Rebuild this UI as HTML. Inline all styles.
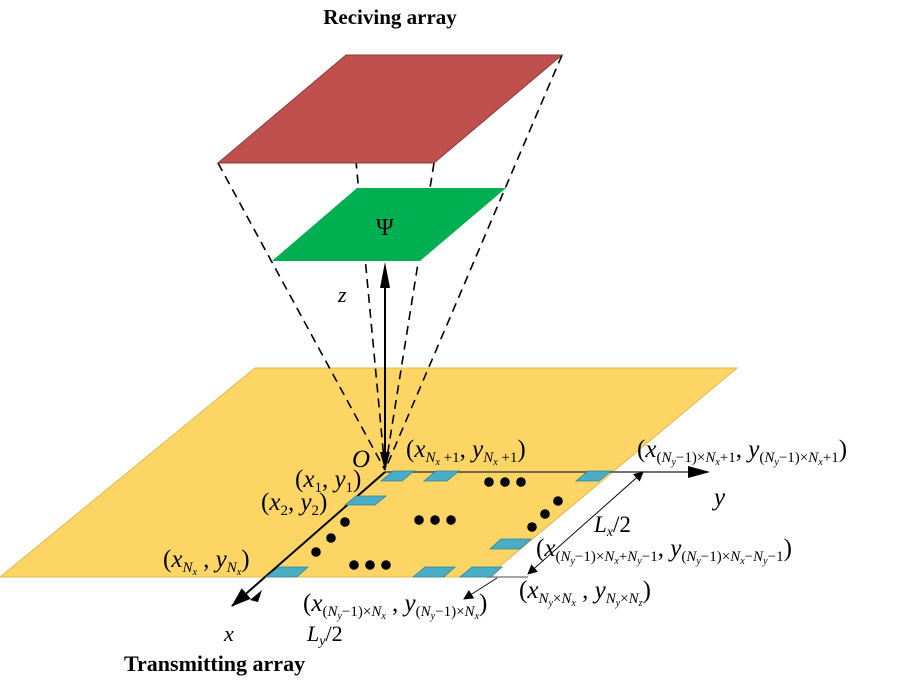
<!DOCTYPE html>
<html><head><meta charset="utf-8"><style>
html,body{margin:0;padding:0;background:#fff;}
svg{display:block;}
text{font-family:"Liberation Serif",serif;fill:#000;}
.v{font-style:italic;}
.n{font-style:normal;}
</style></head><body>
<svg width="900" height="682" viewBox="0 0 900 682" xmlns="http://www.w3.org/2000/svg">
<defs>
<marker id="ah" markerWidth="10" markerHeight="10" refX="9" refY="5" orient="auto" markerUnits="userSpaceOnUse"><path d="M0,0 L10,5 L0,10 Z" fill="#000"/></marker>
<marker id="ahb" markerWidth="20" markerHeight="14" refX="19" refY="7" orient="auto" markerUnits="userSpaceOnUse"><path d="M0,0 L20,7 L0,14 Z" fill="#000"/></marker>
</defs>

<text x="390" y="24" font-size="21" font-weight="bold" text-anchor="middle">Reciving array</text>

<polygon points="255,368 737,368 487,577 0,577" fill="#fcd565" stroke="#e0b850" stroke-width="1"/>

<g stroke="#000" stroke-width="1.6" stroke-dasharray="9,6" fill="none">
<line x1="218" y1="163" x2="385" y2="470"/>
<line x1="346" y1="55" x2="385" y2="470"/>
<line x1="434" y1="163" x2="385" y2="470"/>
<line x1="562" y1="55" x2="385" y2="470"/>
</g>

<polygon points="346,55 562,55 434,163 218,163" fill="#c0504d" stroke="#8c3a38" stroke-width="1"/>
<polygon points="357,188 506,188 420,261 272,261" fill="#00b050"/>
<text x="376" y="235" font-size="24" class="n">Ψ</text>

<line x1="385" y1="468" x2="385" y2="272" stroke="#000" stroke-width="2"/>
<polygon points="385,262 380,288 390,288" fill="#000"/>
<polygon points="385,470 380,452 390,452" fill="#000"/>
<text x="338" y="302" font-size="22" class="v">z</text>

<line x1="385" y1="472" x2="700" y2="472" stroke="#444" stroke-width="1.5"/>
<polygon points="710,472 688,466 688,478" fill="#000"/>
<line x1="487" y1="577" x2="528" y2="577" stroke="#888" stroke-width="1.5"/>
<line x1="385" y1="472" x2="232" y2="606" stroke="#000" stroke-width="2" marker-end="url(#ahb)"/>

<line x1="528" y1="574" x2="643" y2="472" stroke="#000" stroke-width="0.8" marker-end="url(#ah)"/>
<line x1="643" y1="472" x2="528" y2="574" stroke="#000" stroke-width="0.8" marker-end="url(#ah)"/>
<line x1="497" y1="578" x2="464" y2="599" stroke="#000" stroke-width="0.8" marker-end="url(#ah)"/>
<polygon points="250,600 262,590 258,602" fill="#000"/>

<g fill="#4bacc6" stroke="#31859c" stroke-width="0.8">
<polygon points="393,471 414,471 402,481 381,481"/>
<polygon points="436,471 459,471 447,481 424,481"/>
<polygon points="588,471 611,471 599,481 576,481"/>
<polygon points="356,496 386,496 375,505 345,505"/>
<polygon points="279,567 308,567 297,577 266,577"/>
<polygon points="425,567 455,567 444,577 413,577"/>
<polygon points="472,567 502,567 491,577 460,577"/>
<polygon points="501,539 531,539 520,549 490,549"/>
</g>

<g fill="#000">
<circle cx="489" cy="482" r="4.8"/><circle cx="505" cy="482" r="4.8"/><circle cx="521" cy="482" r="4.8"/>
<circle cx="419" cy="520" r="4.8"/><circle cx="435" cy="520" r="4.8"/><circle cx="451" cy="520" r="4.8"/>
<circle cx="354" cy="565" r="4.8"/><circle cx="370" cy="565" r="4.8"/><circle cx="386" cy="565" r="4.8"/>
<circle cx="345" cy="522" r="4.8"/><circle cx="331" cy="538" r="4.8"/><circle cx="316" cy="552" r="4.8"/>
<circle cx="558" cy="501" r="4.8"/><circle cx="545" cy="514" r="4.8"/><circle cx="532" cy="527" r="4.8"/>
</g>

<g font-size="25">
<text x="352" y="467" class="v">O</text>
<text x="295" y="487" class="n">(<tspan class="v">x</tspan><tspan font-size="15" dy="5">1</tspan><tspan dy="-5">, </tspan><tspan class="v">y</tspan><tspan font-size="15" dy="5">1</tspan><tspan dy="-5">)</tspan></text>
<text x="261" y="510" class="n">(<tspan class="v">x</tspan><tspan font-size="15" dy="5">2</tspan><tspan dy="-5">, </tspan><tspan class="v">y</tspan><tspan font-size="15" dy="5">2</tspan><tspan dy="-5">)</tspan></text>
<text x="163" y="567" class="n">(<tspan class="v">x</tspan><tspan font-size="15" dy="5" class="v">N<tspan font-size="10" dy="3">x</tspan></tspan><tspan dy="-8"> , </tspan><tspan class="v">y</tspan><tspan font-size="15" dy="5" class="v">N<tspan font-size="10" dy="3">x</tspan></tspan><tspan dy="-8">)</tspan></text>
<text x="406" y="457" class="n">(<tspan class="v">x</tspan><tspan font-size="15" dy="5"><tspan class="v">N</tspan><tspan font-size="10" dy="3" class="v">x</tspan><tspan dy="-3"> +1</tspan></tspan><tspan dy="-5">, </tspan><tspan class="v">y</tspan><tspan font-size="15" dy="5"><tspan class="v">N</tspan><tspan font-size="10" dy="3" class="v">x</tspan><tspan dy="-3"> +1</tspan></tspan><tspan dy="-5">)</tspan></text>
<text x="637" y="457" class="n">(<tspan class="v">x</tspan><tspan font-size="15" dy="5">(<tspan class="v">N</tspan><tspan font-size="10" dy="3" class="v">y</tspan><tspan dy="-3">−1)×</tspan><tspan class="v">N</tspan><tspan font-size="10" dy="3" class="v">x</tspan><tspan dy="-3">+1</tspan></tspan><tspan dy="-5">, </tspan><tspan class="v">y</tspan><tspan font-size="15" dy="5">(<tspan class="v">N</tspan><tspan font-size="10" dy="3" class="v">y</tspan><tspan dy="-3">−1)×</tspan><tspan class="v">N</tspan><tspan font-size="10" dy="3" class="v">x</tspan><tspan dy="-3">+1</tspan></tspan><tspan dy="-5">)</tspan></text>
<text x="714" y="505" class="v">y</text>
<text x="594" y="532" font-size="23" class="v">L<tspan font-size="14" dy="4">x</tspan><tspan class="n" dy="-4">/2</tspan></text>
<text x="536" y="556" class="n">(<tspan class="v">x</tspan><tspan font-size="15" dy="5">(<tspan class="v">N</tspan><tspan font-size="10" dy="3" class="v">y</tspan><tspan dy="-3">−1)×</tspan><tspan class="v">N</tspan><tspan font-size="10" dy="3" class="v">x</tspan><tspan dy="-3">+</tspan><tspan class="v">N</tspan><tspan font-size="10" dy="3" class="v">y</tspan><tspan dy="-3">−1</tspan></tspan><tspan dy="-5">, </tspan><tspan class="v">y</tspan><tspan font-size="15" dy="5">(<tspan class="v">N</tspan><tspan font-size="10" dy="3" class="v">y</tspan><tspan dy="-3">−1)×</tspan><tspan class="v">N</tspan><tspan font-size="10" dy="3" class="v">x</tspan><tspan dy="-3">−</tspan><tspan class="v">N</tspan><tspan font-size="10" dy="3" class="v">y</tspan><tspan dy="-3">−1</tspan></tspan><tspan dy="-5">)</tspan></text>
<text x="519" y="598" class="n">(<tspan class="v">x</tspan><tspan font-size="15" dy="5"><tspan class="v">N</tspan><tspan font-size="10" dy="3" class="v">y</tspan><tspan dy="-3">×</tspan><tspan class="v">N</tspan><tspan font-size="10" dy="3" class="v">x</tspan></tspan><tspan dy="-8"> , </tspan><tspan class="v">y</tspan><tspan font-size="15" dy="5"><tspan class="v">N</tspan><tspan font-size="10" dy="3" class="v">y</tspan><tspan dy="-3">×</tspan><tspan class="v">N</tspan><tspan font-size="10" dy="3" class="v">z</tspan></tspan><tspan dy="-8">)</tspan></text>
<text x="303" y="611" class="n">(<tspan class="v">x</tspan><tspan font-size="15" dy="5">(<tspan class="v">N</tspan><tspan font-size="10" dy="3" class="v">y</tspan><tspan dy="-3">−1)×</tspan><tspan class="v">N</tspan><tspan font-size="10" dy="3" class="v">x</tspan></tspan><tspan dy="-8"> , </tspan><tspan class="v">y</tspan><tspan font-size="15" dy="5">(<tspan class="v">N</tspan><tspan font-size="10" dy="3" class="v">y</tspan><tspan dy="-3">−1)×</tspan><tspan class="v">N</tspan><tspan font-size="10" dy="3" class="v">x</tspan></tspan><tspan dy="-8">)</tspan></text>
<text x="224" y="641" font-size="22" class="v">x</text>
<text x="307" y="641" font-size="22" class="v">L<tspan font-size="14" dy="4">y</tspan><tspan class="n" dy="-4">/2</tspan></text>
</g>
<text x="124" y="671" font-size="22" font-weight="bold">Transmitting array</text>
</svg>
</body></html>
